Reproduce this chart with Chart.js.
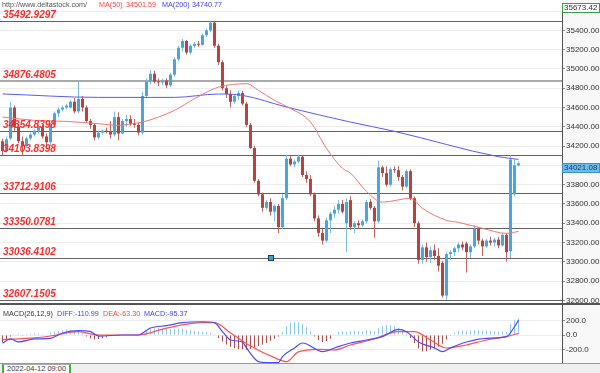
<!DOCTYPE html>
<html>
<head>
<meta charset="utf-8">
<title>Candles</title>
<script src="https://cdn.jsdelivr.net/npm/chart.js@4.4.1/dist/chart.umd.min.js"></script>
<style>
  body { margin: 0; width: 600px; height: 373px; overflow: hidden; background: #fff; position: relative;
         font-family: "Liberation Sans", Arial, sans-serif; }
  canvas { position: absolute; left: 0; }
  #main { top: 0; }
  #macd { top: 304px; }
  .t { position: absolute; font-size: 7.2px; line-height: 10px; white-space: nowrap; }
  #strip { position: absolute; left: 0; top: 363px; width: 600px; height: 10px; background: #efefef; border-top: 1px solid #999; }
  #date { position: absolute; left: 2px; top: 364px; height: 8px; padding: 0 3px; border: 1px solid #aaa;
          border-left: 2px solid #4a4; border-right: 2px solid #4a4; font-size: 7.5px; line-height: 8px; color: #444; background: #fafafa; }
</style>
</head>
<body>
<canvas id="main" width="600" height="304"></canvas>
<canvas id="macd" width="600" height="59"></canvas>
<div id="strip"></div>
<div id="date">2022-04-12 09:00</div>

<div class="t" style="left:2px;top:0px;color:#555">http://www.deltastock.com/</div>
<div class="t" style="left:99px;top:0px;color:#ff4040">MA(50)</div>
<div class="t" style="left:126px;top:0px;color:#ff4040">34501.59</div>
<div class="t" style="left:162px;top:0px;color:#4040ff">MA(200)</div>
<div class="t" style="left:192px;top:0px;color:#4040ff">34740.77</div>

<div class="t" style="left:3px;top:309px;color:#333">MACD(26,12,9)</div>
<div class="t" style="left:57px;top:309px;color:#4040ff">DIFF:-110.99</div>
<div class="t" style="left:103px;top:309px;color:#ff4040">DEA:-63.30</div>
<div class="t" style="left:144px;top:309px;color:#4040ff">MACD:-95.37</div>

<script>
// candles, oldest first
const opens = [
  34250, 34150, 34280, 34600, 34400, 34250, 34200, 34280, 34320, 34360,
  34400, 34300, 34240, 34420, 34540, 34580, 34600, 34600, 34660, 34560,
  34690, 34600, 34460, 34420, 34290, 34340, 34360, 34350, 34320, 34500,
  34330, 34460, 34480, 34430, 34420, 34340, 34720, 34870, 34950, 34870,
  34860, 34880, 34830, 34940, 35100, 35220, 35290, 35170, 35240, 35260,
  35250, 35350, 35400, 35480, 35240, 35070, 34800, 34740, 34660, 34720,
  34750, 34640, 34420, 34180, 33840, 33700, 33560, 33620, 33520, 33580,
  33360, 33660, 34070, 34010, 34040, 34090, 33900, 33860, 33700, 33450,
  33300, 33220, 33430, 33500, 33540, 33600, 33400, 33640, 33360, 33400,
  33380, 33420, 33620, 33560, 33420, 33980, 33920, 33800, 33960, 33950,
  33880, 33780, 33940, 33660, 33400, 33020, 33150, 33050, 33120, 33060,
  32990, 32650, 33080, 33100, 33140, 33180, 33190, 33100, 33160, 33340,
  33220, 33160, 33220, 33200, 33230, 33170, 33280, 33110, 33700, 34000
];
const highs = [
  34280, 34300, 34660, 34620, 34430, 34300, 34300, 34340, 34380, 34420,
  34420, 34330, 34440, 34560, 34600, 34620, 34640, 34680, 34700, 34880,
  34720, 34620, 34480, 34440, 34360, 34370, 34390, 34460, 34560, 34550,
  34480, 34520, 34520, 34480, 34440, 34760, 34900, 34990, 34980, 34900,
  34900, 34900, 34960, 35120, 35240, 35310, 35300, 35260, 35280, 35290,
  35370, 35420, 35493, 35490, 35260, 35090, 34820, 34780, 34740, 34780,
  34770, 34660, 34440, 34200, 33860, 33720, 33640, 33660, 33600, 33600,
  33700, 34110, 34100, 34060, 34110, 34100, 33940, 33900, 33720, 33480,
  33340, 33460, 33520, 33580, 33640, 33640, 33660, 33680, 33420, 33430,
  33440, 33640, 33650, 33580, 34050, 34000, 33990, 33980, 33990, 33990,
  33900, 33960, 33960, 33680, 33420, 33180, 33200, 33160, 33180, 33140,
  33010, 33100, 33120, 33160, 33200, 33210, 33210, 33180, 33380, 33360,
  33240, 33240, 33260, 33250, 33260, 33300, 33300, 34104, 34060, 34040
];
const lows = [
  34100, 34130, 34260, 34360, 34230, 34100, 34180, 34260, 34300, 34330,
  34280, 34200, 34200, 34400, 34500, 34560, 34580, 34590, 34540, 34540,
  34560, 34440, 34380, 34260, 34270, 34320, 34330, 34280, 34300, 34260,
  34320, 34400, 34410, 34390, 34310, 34320, 34700, 34840, 34850, 34820,
  34830, 34800, 34810, 34920, 35080, 35180, 35150, 35150, 35220, 35230,
  35240, 35330, 35380, 35220, 35040, 34780, 34700, 34600, 34640, 34680,
  34620, 34400, 34170, 33820, 33680, 33520, 33540, 33480, 33420, 33300,
  33340, 33640, 33990, 33980, 34020, 33880, 33820, 33680, 33420, 33260,
  33180, 33200, 33300, 33460, 33500, 33500, 33100, 33330, 33300, 33340,
  33360, 33400, 33540, 33250, 33400, 33880, 33780, 33780, 33920, 33840,
  33740, 33760, 33640, 33360, 32980, 32980, 33000, 32990, 33020, 32900,
  32630, 32607, 33020, 33060, 33100, 33120, 32890, 33040, 33140, 33180,
  33060, 33140, 33170, 33160, 33140, 33160, 33000, 33040, 33680, 33990
];
const closes = [
  34150, 34270, 34600, 34400, 34250, 34200, 34280, 34320, 34360, 34400,
  34300, 34240, 34420, 34540, 34580, 34600, 34620, 34660, 34560, 34690,
  34600, 34460, 34420, 34290, 34340, 34360, 34350, 34320, 34500, 34330,
  34460, 34480, 34430, 34420, 34340, 34720, 34870, 34950, 34870, 34860,
  34880, 34830, 34940, 35100, 35220, 35290, 35170, 35240, 35260, 35250,
  35350, 35400, 35480, 35240, 35070, 34800, 34740, 34660, 34720, 34750,
  34640, 34420, 34180, 33840, 33700, 33560, 33620, 33520, 33580, 33360,
  33660, 34070, 34010, 34040, 34090, 33900, 33860, 33700, 33450, 33300,
  33220, 33430, 33500, 33540, 33600, 33520, 33620, 33360, 33400, 33380,
  33420, 33620, 33560, 33420, 33980, 33920, 33800, 33960, 33950, 33880,
  33780, 33940, 33660, 33400, 33020, 33150, 33050, 33120, 33060, 32960,
  32650, 33080, 33100, 33140, 33180, 33150, 33100, 33160, 33340, 33220,
  33160, 33220, 33200, 33230, 33170, 33280, 33100, 34060, 34000, 34021.08
];

// moving averages (candle index, value)
const ma50Idx = [0, 8, 16, 24, 29, 33, 35, 39, 43, 48, 52, 54, 61, 64, 68, 72, 77, 81, 85, 87, 91, 95, 102, 105, 111, 114, 120, 126, 129];
const ma50Val = [34501, 34467, 34456, 34432, 34415, 34436, 34449, 34501, 34570, 34692, 34778, 34812, 34847, 34778, 34674, 34591, 34449, 34176, 33969, 33920, 33730, 33619, 33658, 33554, 33430, 33409, 33347, 33295, 33316];
const ma200Idx = [0, 24, 43, 54, 60, 71, 87, 98, 124, 129];
const ma200Val = [34741, 34705, 34705, 34740, 34726, 34605, 34449, 34353, 34090, 34062];

// drawn levels
const levelValues = [35492.9297, 34876.4805, 34354.8398, 34103.8398, 33712.9106, 33350.0781, 33036.4102, 32607.1505];

// axis ticks
const priceTicks = [32600, 32800, 33000, 33200, 33400, 33600, 33800, 34000, 34200, 34400, 34600, 34800, 35000, 35200, 35400, 35600];
const macdTicks = [-200, 0, 200];

// MACD panel
const hist = [
  -95, -60, -20, 10, 20, -10, 15, 20, 25, 20,
  15, 10, 30, 45, 55, 65, 70, 60, 55, 50,
  25, -20, -45, -60, -55, -45, -30, -15, -5, 5,
  10, 5, 10, 5, -5, 20, 55, 80, 90, 95,
  90, 85, 80, 85, 90, 85, 70, 65, 60, 50,
  45, 40, 30, 10, -40, -90, -130, -160, -180, -190,
  -195, -200, -190, -170, -150, -130, -110, -80, -50, -20,
  40, 120, 170, 180, 170, 150, 110, 50, -20, -70,
  -95, -85, -50, 10, 40, 50, 45, 55, 60, 55,
  50, 65, 60, 50, 100, 120, 135, 130, 120, 100,
  60, 20, -40, -110, -180, -225, -220, -200, -180, -160,
  -120, -60, -10, 30, 50, 60, 55, 60, 68, 65,
  55, 60, 55, 50, 45, 50, 40, 150, 200, 230
];
const diffIdx = [0, 2, 4, 8, 12, 15, 19, 22, 24, 30, 34, 35, 37, 41, 45, 50, 53, 55, 57, 60, 61, 64, 66, 69, 70, 73, 75, 80, 83, 87, 91, 95, 99, 101, 104, 108, 110, 112, 116, 121, 126, 128, 129];
const diffVal = [-111, -54, -95, -54, -45, 27, 59, 45, -14, 0, 0, 27, 95, 127, 168, 181, 168, 45, -68, -95, -177, -363, -375, -375, -295, -177, -109, -227, -177, -109, -68, -23, 77, 45, -95, -177, -227, -177, -95, -45, -23, 113, 204];
const deaIdx = [0, 8, 12, 19, 24, 34, 41, 50, 53, 57, 62, 68, 71, 74, 79, 83, 87, 92, 99, 103, 107, 111, 116, 121, 126, 129];
const deaVal = [-63, -40, -14, 45, 0, 0, 95, 168, 168, 27, -150, -308, -363, -230, -195, -204, -136, -68, 45, 45, -68, -177, -136, -68, -23, 23];

const upColor = '#4aa5de', downColor = '#b8423f';
const upWick = '#7cbde8', downWick = '#c26461';
const idx = closes.map((c, i) => i);

const xScale = { type: 'linear', min: -0.625, max: 139.875, offset: false, display: false };
const fitAxis = s => { s.width = 38; s.paddingTop = 0; s.paddingBottom = 0; };
const tickFont = { size: 8, family: '"Liberation Sans", Arial, sans-serif' };

const mainPlugin = {
  id: 'mainDeco',
  beforeDraw(chart) {
    const { ctx, chartArea: a } = chart;
    ctx.save();
    ctx.fillStyle = '#f8f8f8';
    ctx.fillRect(a.right, 0, chart.width - a.right, chart.height);
    ctx.restore();
  },
  beforeDatasetsDraw(chart) {
    const { ctx, chartArea: a, scales: { y } } = chart;
    ctx.save();
    levelValues.forEach((v, k) => {
      const py = Math.round(y.getPixelForValue(v));
      ctx.strokeStyle = k === 1 ? '#aaaaaa' : '#626262';
      ctx.lineWidth = k === 1 ? 2 : 1;
      ctx.beginPath();
      ctx.moveTo(a.left, k === 1 ? py : py + 0.5);
      ctx.lineTo(a.right, k === 1 ? py : py + 0.5);
      ctx.stroke();
    });
    ctx.restore();
  },
  afterDraw(chart) {
    const { ctx, chartArea: a, scales: { x, y } } = chart;
    ctx.save();
    // level captions
    ctx.font = 'italic bold 10px "Liberation Sans", Arial, sans-serif';
    ctx.fillStyle = '#ff2b2b';
    ctx.textBaseline = 'alphabetic';
    levelValues.forEach(v => {
      const py = Math.round(y.getPixelForValue(v));
      ctx.fillText(v.toFixed(4), 3, py - 3);
    });
    // handle of the drawing tool on a level line
    const mx = Math.round(x.getPixelForValue(67)), my = Math.round(y.getPixelForValue(levelValues[6]));
    ctx.fillStyle = '#3d9de0';
    ctx.strokeStyle = '#244';
    ctx.lineWidth = 1;
    ctx.fillRect(mx - 2, my - 2, 5, 5);
    ctx.strokeRect(mx - 2.5, my - 2.5, 5, 5);
    // axis boxes
    ctx.font = '8px "Liberation Sans", Arial, sans-serif';
    ctx.textBaseline = 'middle';
    const topY = Math.round(y.getPixelForValue(y.max)) - 1;
    ctx.fillStyle = '#ffffff';
    ctx.fillRect(a.right + 1, topY, 37, 9);
    ctx.strokeStyle = '#3aa24a';
    ctx.strokeRect(a.right + 0.5, topY + 0.5, 37, 9);
    ctx.fillStyle = '#333';
    ctx.fillText(y.max.toFixed(2), a.right + 2, topY + 5);
    const last = closes[closes.length - 1];
    const ly = Math.round(y.getPixelForValue(last));
    ctx.fillStyle = '#6cbcec';
    ctx.fillRect(a.right + 1, ly, 37, 9);
    ctx.strokeStyle = '#3e8fcc';
    ctx.strokeRect(a.right + 0.5, ly + 0.5, 37, 9);
    ctx.fillStyle = '#1a3a5a';
    ctx.fillText(last.toFixed(2), a.right + 2, ly + 5);
    // panel bottom border
    ctx.strokeStyle = '#555';
    ctx.beginPath();
    ctx.moveTo(0, a.bottom + 0.5);
    ctx.lineTo(chart.width, a.bottom + 0.5);
    ctx.stroke();
    ctx.restore();
  }
};

new Chart(document.getElementById('main'), {
  type: 'bar',
  data: {
    datasets: [
      {
        label: 'wick',
        data: idx.map(i => ({ x: i, y: [lows[i], highs[i]] })),
        backgroundColor: idx.map(i => closes[i] >= opens[i] ? upWick : downWick),
        barThickness: 1, grouped: false, inflateAmount: 0, order: 3
      },
      {
        label: 'body',
        data: idx.map(i => ({ x: i, y: [opens[i], closes[i]] })),
        backgroundColor: idx.map(i => closes[i] >= opens[i] ? upColor : downColor),
        barThickness: 3, grouped: false, inflateAmount: 0, minBarLength: 1, order: 2
      },
      {
        type: 'line', label: 'MA(50)',
        data: ma50Idx.map((x, k) => ({ x: x, y: ma50Val[k] })),
        borderColor: '#f47373', borderWidth: 1, pointRadius: 0, cubicInterpolationMode: 'monotone', order: 1
      },
      {
        type: 'line', label: 'MA(200)',
        data: ma200Idx.map((x, k) => ({ x: x, y: ma200Val[k] })),
        borderColor: '#5b5bf2', borderWidth: 1, pointRadius: 0, cubicInterpolationMode: 'monotone', order: 1
      }
    ]
  },
  options: {
    responsive: false,
    animation: false,
    layout: { padding: { top: 4, bottom: 1, left: 0, right: 0 } },
    plugins: { legend: { display: false }, tooltip: { enabled: false } },
    scales: {
      x: xScale,
      y: {
        position: 'right', min: 32573, max: 35673.42,
        afterFit: fitAxis,
        afterBuildTicks: s => { s.ticks = priceTicks.map(v => ({ value: v })); },
        border: { color: '#555' },
        grid: { color: '#ededed', tickColor: '#888', tickLength: 3 },
        ticks: { padding: 1, color: '#333', font: tickFont,
                 callback: v => v > 35500 ? '' : v.toFixed(2) }
      }
    }
  },
  plugins: [mainPlugin]
});

const macdPlugin = {
  id: 'macdDeco',
  beforeDraw(chart) {
    const { ctx, chartArea: a } = chart;
    ctx.save();
    ctx.fillStyle = '#f8f8f8';
    ctx.fillRect(a.right, 0, chart.width - a.right, chart.height);
    ctx.strokeStyle = '#555';
    ctx.beginPath();
    ctx.moveTo(0, 0.5);
    ctx.lineTo(chart.width, 0.5);
    ctx.stroke();
    ctx.restore();
  }
};

new Chart(document.getElementById('macd'), {
  type: 'bar',
  data: {
    datasets: [
      {
        type: 'line', label: 'DIFF',
        data: diffIdx.map((x, k) => ({ x: x, y: diffVal[k] })),
        borderColor: '#4b4bff', borderWidth: 1.2, pointRadius: 0, cubicInterpolationMode: 'monotone', order: 1
      },
      {
        type: 'line', label: 'DEA',
        data: deaIdx.map((x, k) => ({ x: x, y: deaVal[k] })),
        borderColor: '#ff5252', borderWidth: 1.2, pointRadius: 0, cubicInterpolationMode: 'monotone', order: 1
      },
      {
        label: 'MACD',
        data: idx.map(i => ({ x: i, y: hist[i] })),
        backgroundColor: hist.map(v => v >= 0 ? '#8ec8ec' : '#b14c4c'),
        barThickness: 1, grouped: false, inflateAmount: 0, order: 2
      }
    ]
  },
  options: {
    responsive: false,
    animation: false,
    layout: { padding: 0 },
    plugins: { legend: { display: false }, tooltip: { enabled: false } },
    scales: {
      x: xScale,
      y: {
        position: 'right', min: -382, max: 423,
        afterFit: fitAxis,
        afterBuildTicks: s => { s.ticks = macdTicks.map(v => ({ value: v })); },
        border: { color: '#555' },
        grid: { color: '#ededed', tickColor: '#888', tickLength: 3 },
        ticks: { padding: 1, color: '#333', font: tickFont,
                 callback: v => v.toFixed(1) }
      }
    }
  },
  plugins: [macdPlugin]
});
</script>
</body>
</html>
